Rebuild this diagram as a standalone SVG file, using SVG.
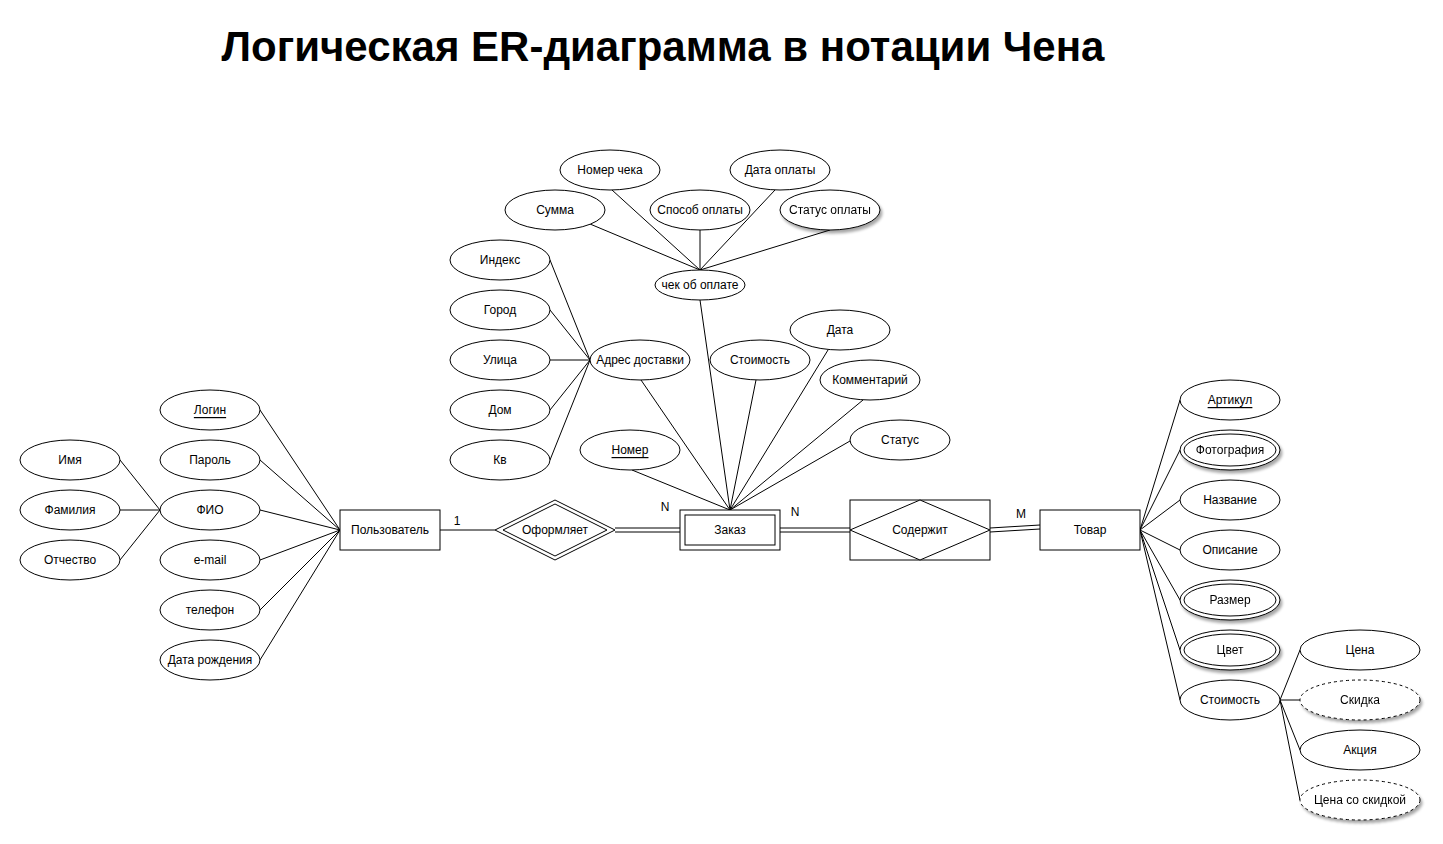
<svg xmlns="http://www.w3.org/2000/svg" width="1443" height="844" viewBox="0 0 1443 844">
<defs>
<filter id="sh" x="-20%" y="-20%" width="150%" height="160%">
<feGaussianBlur in="SourceAlpha" stdDeviation="1.5"/>
<feOffset dx="2" dy="3" result="b"/>
<feComponentTransfer><feFuncA type="linear" slope="0.35"/></feComponentTransfer>
<feMerge><feMergeNode/><feMergeNode in="SourceGraphic"/></feMerge>
</filter>
</defs>
<style>
text{font-family:"Liberation Sans",Arial,sans-serif;font-size:12px;fill:#000;text-anchor:middle;dominant-baseline:central}
.t{font-size:42px;font-weight:bold;dominant-baseline:auto}
ellipse,rect,polygon{fill:#fff;stroke:#000;stroke-width:1}
.d{stroke-dasharray:3 3}
#connectors line{stroke:#000;stroke-width:1}
.u{text-decoration:underline}
</style>
<rect x="0" y="0" width="1443" height="844" style="fill:#fff;stroke:none"/>
<text class="t" x="663" y="61">Логическая ER-диаграмма в нотации Чена</text>
<g id="connectors">
<line x1="340" y1="530" x2="260" y2="410"/>
<line x1="340" y1="530" x2="260" y2="460"/>
<line x1="340" y1="530" x2="260" y2="510"/>
<line x1="340" y1="530" x2="260" y2="560"/>
<line x1="340" y1="530" x2="260" y2="610"/>
<line x1="340" y1="530" x2="260" y2="660"/>
<line x1="160" y1="510" x2="120" y2="460"/>
<line x1="160" y1="510" x2="120" y2="510"/>
<line x1="160" y1="510" x2="120" y2="560"/>
<line x1="440" y1="530" x2="495" y2="530"/>
<line x1="615" y1="528" x2="680" y2="528"/>
<line x1="615" y1="532" x2="680" y2="532"/>
<line x1="780" y1="528" x2="850" y2="528"/>
<line x1="780" y1="532" x2="850" y2="532"/>
<line x1="990" y1="528" x2="1040" y2="525"/>
<line x1="990" y1="532" x2="1040" y2="529"/>
<line x1="1140" y1="530" x2="1180" y2="400"/>
<line x1="1140" y1="530" x2="1180" y2="450"/>
<line x1="1140" y1="530" x2="1180" y2="500"/>
<line x1="1140" y1="530" x2="1180" y2="550"/>
<line x1="1140" y1="530" x2="1180" y2="600"/>
<line x1="1140" y1="530" x2="1180" y2="650"/>
<line x1="1140" y1="530" x2="1180" y2="700"/>
<line x1="1280" y1="700" x2="1300" y2="650"/>
<line x1="1280" y1="700" x2="1300" y2="700"/>
<line x1="1280" y1="700" x2="1300" y2="750"/>
<line x1="1280" y1="700" x2="1300" y2="800"/>
<line x1="700" y1="270" x2="590" y2="224"/>
<line x1="700" y1="270" x2="612" y2="190"/>
<line x1="700" y1="270" x2="700" y2="230"/>
<line x1="700" y1="270" x2="775" y2="190"/>
<line x1="700" y1="270" x2="830" y2="230"/>
<line x1="700" y1="300" x2="730" y2="510"/>
<line x1="590" y1="360" x2="550" y2="260"/>
<line x1="590" y1="360" x2="550" y2="310"/>
<line x1="590" y1="360" x2="550" y2="360"/>
<line x1="590" y1="360" x2="550" y2="410"/>
<line x1="590" y1="360" x2="550" y2="460"/>
<line x1="641" y1="380" x2="730" y2="510"/>
<line x1="756" y1="380" x2="730" y2="510"/>
<line x1="828" y1="350" x2="730" y2="510"/>
<line x1="863" y1="400" x2="730" y2="510"/>
<line x1="850" y1="441" x2="730" y2="510"/>
<line x1="632" y1="470" x2="730" y2="510"/>
</g>
<text x="457" y="521">1</text>
<text x="665" y="507">N</text>
<text x="795" y="512">N</text>
<text x="1021" y="514">M</text>
<g id="user"><rect x="340" y="510" width="100" height="40"/><text x="390" y="530">Пользователь</text></g>
<g id="login"><ellipse cx="210" cy="410" rx="50" ry="20"/><text class="u" x="210" y="410">Логин</text></g>
<g id="password"><ellipse cx="210" cy="460" rx="50" ry="20"/><text x="210" y="460">Пароль</text></g>
<g id="fio"><ellipse cx="210" cy="510" rx="50" ry="20"/><text x="210" y="510">ФИО</text></g>
<g id="email"><ellipse cx="210" cy="560" rx="50" ry="20"/><text x="210" y="560">e-mail</text></g>
<g id="phone"><ellipse cx="210" cy="610" rx="50" ry="20"/><text x="210" y="610">телефон</text></g>
<g id="birth"><ellipse cx="210" cy="660" rx="50" ry="20"/><text x="210" y="660">Дата рождения</text></g>
<g id="name"><ellipse cx="70" cy="460" rx="50" ry="20"/><text x="70" y="460">Имя</text></g>
<g id="surname"><ellipse cx="70" cy="510" rx="50" ry="20"/><text x="70" y="510">Фамилия</text></g>
<g id="patronymic"><ellipse cx="70" cy="560" rx="50" ry="20"/><text x="70" y="560">Отчество</text></g>
<g id="makes"><polygon points="495,530 555,500 615,530 555,560"/><polygon points="503,530 555,504 607,530 555,556"/><text x="555" y="530">Оформляет</text></g>
<g id="order"><rect x="680" y="510" width="100" height="40"/><rect x="685" y="515" width="90" height="30"/><text x="730" y="530">Заказ</text></g>
<g id="contains"><rect x="850" y="500" width="140" height="60"/><polygon points="850,530 920,500 990,530 920,560"/><text x="920" y="530">Содержит</text></g>
<g id="product"><rect x="1040" y="510" width="100" height="40"/><text x="1090" y="530">Товар</text></g>
<g id="article"><ellipse cx="1230" cy="400" rx="50" ry="20"/><text class="u" x="1230" y="400">Артикул</text></g>
<g id="photo" filter="url(#sh)"><ellipse cx="1230" cy="450" rx="50" ry="20"/><ellipse cx="1230" cy="450" rx="46" ry="16"/><text x="1230" y="450">Фотография</text></g>
<g id="title"><ellipse cx="1230" cy="500" rx="50" ry="20"/><text x="1230" y="500">Название</text></g>
<g id="descr"><ellipse cx="1230" cy="550" rx="50" ry="20"/><text x="1230" y="550">Описание</text></g>
<g id="size" filter="url(#sh)"><ellipse cx="1230" cy="600" rx="50" ry="20"/><ellipse cx="1230" cy="600" rx="46" ry="16"/><text x="1230" y="600">Размер</text></g>
<g id="color" filter="url(#sh)"><ellipse cx="1230" cy="650" rx="50" ry="20"/><ellipse cx="1230" cy="650" rx="46" ry="16"/><text x="1230" y="650">Цвет</text></g>
<g id="cost"><ellipse cx="1230" cy="700" rx="50" ry="20"/><text x="1230" y="700">Стоимость</text></g>
<g id="price"><ellipse cx="1360" cy="650" rx="60" ry="20"/><text x="1360" y="650">Цена</text></g>
<g id="discount" filter="url(#sh)"><ellipse class="d" cx="1360" cy="700" rx="60" ry="20"/><text x="1360" y="700">Скидка</text></g>
<g id="promo"><ellipse cx="1360" cy="750" rx="60" ry="20"/><text x="1360" y="750">Акция</text></g>
<g id="discprice" filter="url(#sh)"><ellipse class="d" cx="1360" cy="800" rx="60" ry="20"/><text x="1360" y="800">Цена со скидкой</text></g>
<g id="receipt"><ellipse cx="700" cy="285" rx="45" ry="15"/><text x="700" y="285">чек об оплате</text></g>
<g id="receiptno"><ellipse cx="610" cy="170" rx="50" ry="20"/><text x="610" y="170">Номер чека</text></g>
<g id="paydate"><ellipse cx="780" cy="170" rx="50" ry="20"/><text x="780" y="170">Дата оплаты</text></g>
<g id="sum"><ellipse cx="555" cy="210" rx="50" ry="20"/><text x="555" y="210">Сумма</text></g>
<g id="paymethod"><ellipse cx="700" cy="210" rx="50" ry="20"/><text x="700" y="210">Способ оплаты</text></g>
<g id="paystatus" filter="url(#sh)"><ellipse cx="830" cy="210" rx="50" ry="20"/><text x="830" y="210">Статус оплаты</text></g>
<g id="address"><ellipse cx="640" cy="360" rx="50" ry="20"/><text x="640" y="360">Адрес доставки</text></g>
<g id="index"><ellipse cx="500" cy="260" rx="50" ry="20"/><text x="500" y="260">Индекс</text></g>
<g id="city"><ellipse cx="500" cy="310" rx="50" ry="20"/><text x="500" y="310">Город</text></g>
<g id="street"><ellipse cx="500" cy="360" rx="50" ry="20"/><text x="500" y="360">Улица</text></g>
<g id="house"><ellipse cx="500" cy="410" rx="50" ry="20"/><text x="500" y="410">Дом</text></g>
<g id="flat"><ellipse cx="500" cy="460" rx="50" ry="20"/><text x="500" y="460">Кв</text></g>
<g id="ordercost"><ellipse cx="760" cy="360" rx="50" ry="20"/><text x="760" y="360">Стоимость</text></g>
<g id="date"><ellipse cx="840" cy="330" rx="50" ry="20"/><text x="840" y="330">Дата</text></g>
<g id="comment"><ellipse cx="870" cy="380" rx="50" ry="20"/><text x="870" y="380">Комментарий</text></g>
<g id="status"><ellipse cx="900" cy="440" rx="50" ry="20"/><text x="900" y="440">Статус</text></g>
<g id="number"><ellipse cx="630" cy="450" rx="50" ry="20"/><text class="u" x="630" y="450">Номер</text></g>
</svg>
